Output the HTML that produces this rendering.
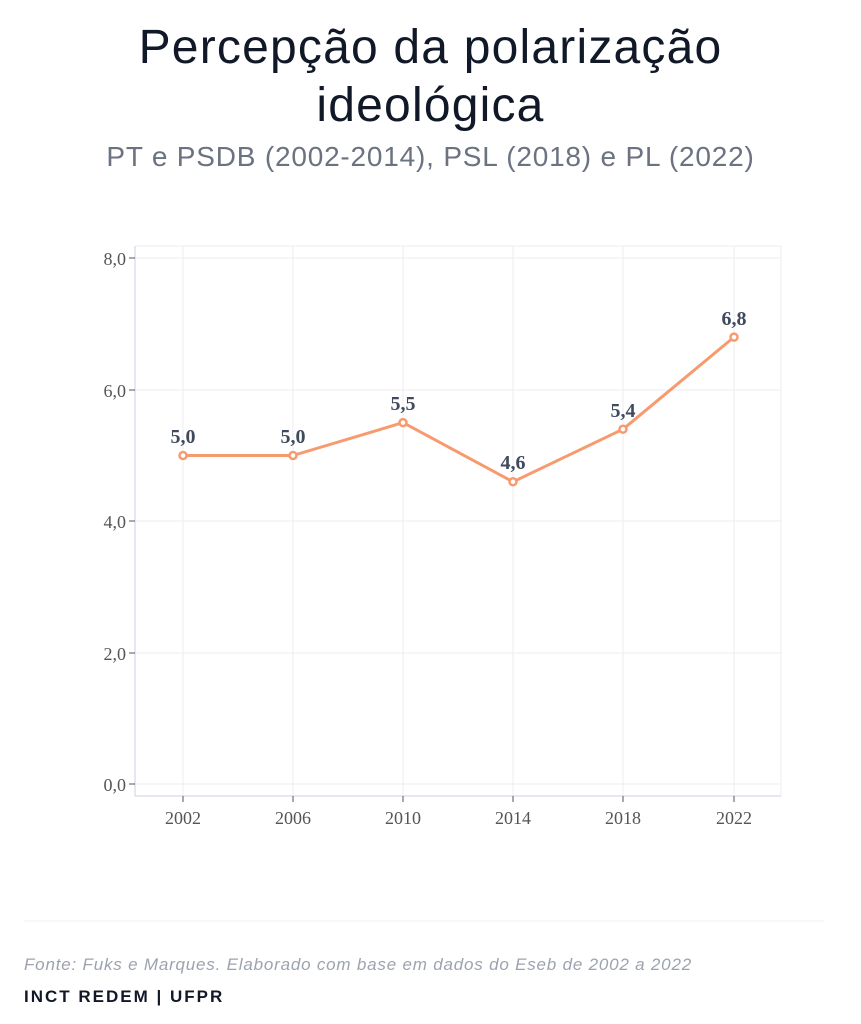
<!DOCTYPE html>
<html><head><meta charset="utf-8"><style>
body{margin:0;width:861px;height:1024px;background:#fff;font-family:"Liberation Sans",sans-serif;position:relative;overflow:hidden}
.t{position:absolute;left:0;width:861px;text-align:center;color:#111827}
</style></head><body>
<div class="t" style="top:19px;font-size:48px;line-height:58px;letter-spacing:1.2px;">Percepção da polarização<br>ideológica</div>
<div class="t" style="top:141px;font-size:28px;color:#6b7280;letter-spacing:0.8px;">PT e PSDB (2002-2014), PSL (2018) e PL (2022)</div>
<svg width="861" height="1024" style="position:absolute;left:0;top:0" font-family="Liberation Serif, serif">
<g stroke="#eceef2" stroke-width="1">
<line x1="135" y1="258" x2="781" y2="258"/><line x1="135" y1="390" x2="781" y2="390"/><line x1="135" y1="521" x2="781" y2="521"/><line x1="135" y1="653" x2="781" y2="653"/><line x1="135" y1="784" x2="781" y2="784"/>
<line x1="183" y1="246" x2="183" y2="796"/><line x1="293" y1="246" x2="293" y2="796"/><line x1="403" y1="246" x2="403" y2="796"/><line x1="513" y1="246" x2="513" y2="796"/><line x1="623" y1="246" x2="623" y2="796"/><line x1="734" y1="246" x2="734" y2="796"/>
<line x1="135" y1="246" x2="781" y2="246"/><line x1="781" y1="246" x2="781" y2="796"/>
</g>
<g stroke="#cbd2e0" stroke-width="1">
<line x1="135" y1="246" x2="135" y2="796"/><line x1="135" y1="796" x2="781" y2="796"/>
</g>
<g stroke="#555" stroke-width="1">
<line x1="129" y1="258" x2="135" y2="258"/><line x1="129" y1="390" x2="135" y2="390"/><line x1="129" y1="521" x2="135" y2="521"/><line x1="129" y1="653" x2="135" y2="653"/><line x1="129" y1="784" x2="135" y2="784"/>
<line x1="183" y1="796" x2="183" y2="802"/><line x1="293" y1="796" x2="293" y2="802"/><line x1="403" y1="796" x2="403" y2="802"/><line x1="513" y1="796" x2="513" y2="802"/><line x1="623" y1="796" x2="623" y2="802"/><line x1="734" y1="796" x2="734" y2="802"/>
</g>
<g fill="#555" font-size="18" text-anchor="end">
<text x="126" y="265">8,0</text><text x="126" y="397">6,0</text><text x="126" y="528">4,0</text><text x="126" y="660">2,0</text><text x="126" y="791">0,0</text>
</g>
<g fill="#555" font-size="18" text-anchor="middle">
<text x="183" y="824">2002</text><text x="293" y="824">2006</text><text x="403" y="824">2010</text><text x="513" y="824">2014</text><text x="623" y="824">2018</text><text x="734" y="824">2022</text>
</g>
<polyline points="183,455.5 293,455.5 403,422.6 513,481.8 623,429.2 734,337.1" fill="none" stroke="#f79a6e" stroke-width="3" stroke-linejoin="round"/>
<g fill="#fff" stroke="#f79a6e" stroke-width="2.5">
<circle cx="183" cy="455.5" r="3.5"/><circle cx="293" cy="455.5" r="3.5"/><circle cx="403" cy="422.6" r="3.5"/><circle cx="513" cy="481.8" r="3.5"/><circle cx="623" cy="429.2" r="3.5"/><circle cx="734" cy="337.1" r="3.5"/>
</g>
<g fill="#3f4a5c" font-size="20" font-weight="bold" text-anchor="middle">
<text x="183" y="443">5,0</text><text x="293" y="443">5,0</text><text x="403" y="410">5,5</text><text x="513" y="469">4,6</text><text x="623" y="417">5,4</text><text x="734" y="325">6,8</text>
</g>
<line x1="24" y1="921" x2="824" y2="921" stroke="#eef0f3"/>
</svg>
<div style="position:absolute;left:24px;top:955px;font-size:17px;font-style:italic;color:#9ca3af;letter-spacing:0.8px;">Fonte: Fuks e Marques. Elaborado com base em dados do Eseb de 2002 a 2022</div>
<div style="position:absolute;left:24px;top:987px;font-size:17px;font-weight:bold;color:#111827;letter-spacing:2px;">INCT REDEM | UFPR</div>
</body></html>
